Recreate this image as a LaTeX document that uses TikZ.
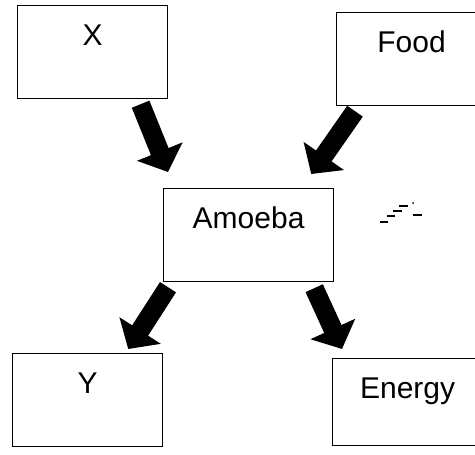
\documentclass[tikz,border=0pt]{standalone}
\usepackage{fontspec}
\setmainfont{Liberation Sans}
\usetikzlibrary{arrows.meta, positioning}

\begin{document}
\begin{tikzpicture}[
  x=1pt, y=-1pt,
  box/.style={rectangle, draw=black, line width=1.2pt, minimum width=150pt, inner ysep=0pt, text height=40pt, text depth=53pt, anchor=north west, font=\fontsize{30}{34}\selectfont, align=center},
  fat/.style={-{Triangle[width=48pt, length=22pt]}, line width=19pt, black},
]
\useasboundingbox (0,0) rectangle (475,455);

\node[box]                      (x)      at (17,5)    {X};
\node[box]                      (food)   at (336,12)  {Food};
\node[box, minimum width=170pt] (amoeba) at (163,188) {Amoeba};
\node[box]                      (y)      at (12,353)  {Y};
\node[box, text depth=47pt]     (energy) at (332,358) {Energy};

\draw[fat] ([xshift=48pt,yshift=-5pt]x.south)          -- ([xshift=5pt,yshift=16pt]amoeba.north west);
\draw[fat] ([xshift=19pt,yshift=-5pt]food.south west)  -- ([xshift=-23pt,yshift=14pt]amoeba.north east);
\draw[fat] ([xshift=5pt,yshift=-5pt]amoeba.south west) -- ([xshift=-35pt,yshift=4pt]y.north east);
\draw[fat] ([xshift=-20pt,yshift=-6pt]amoeba.south east) -- ([xshift=10pt,yshift=9pt]energy.north west);

% stray marks right of Amoeba
\draw[line width=1.5pt] (380,222) -- (388,222) (387,216) -- (395,216) (393,211) -- (402,211)
  (399,206) -- (408,206) (413,215) -- (422,215);
\fill (413,203) circle (1pt);
\end{tikzpicture}
\end{document}
